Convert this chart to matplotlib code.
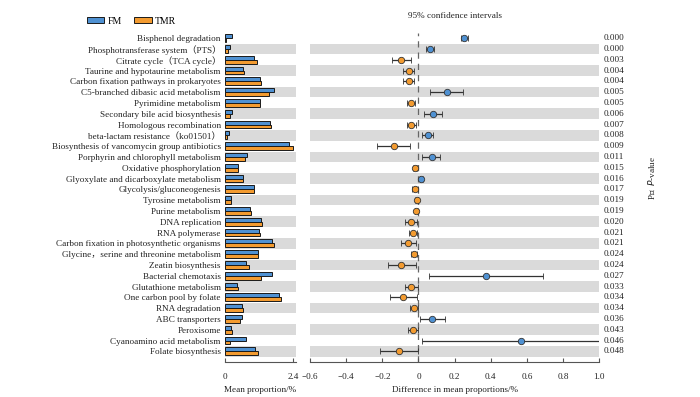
import matplotlib
matplotlib.use("Agg")
import matplotlib.pyplot as plt
from matplotlib.patches import Patch
import numpy as np

plt.rcParams['font.family'] = ['Liberation Serif', 'Noto Sans CJK SC', 'DejaVu Sans']

pathways = [
    "Bisphenol degradation",
    "Phosphotransferase system\uff08PTS\uff09",
    "Citrate cycle\uff08TCA cycle\uff09",
    "Taurine and hypotaurine metabolism",
    "Carbon fixation pathways in prokaryotes",
    "C5-branched dibasic acid metabolism",
    "Pyrimidine metabolism",
    "Secondary bile acid biosynthesis",
    "Homologous recombination",
    "beta-lactam resistance\uff08ko01501\uff09",
    "Biosynthesis of vancomycin group antibiotics",
    "Porphyrin and chlorophyll metabolism",
    "Oxidative phosphorylation",
    "Glyoxylate and dicarboxylate metabolism",
    "Glycolysis/gluconeogenesis",
    "Tyrosine metabolism",
    "Purine metabolism",
    "DNA replication",
    "RNA polymerase",
    "Carbon fixation in photosynthetic organisms",
    "Glycine\uff0cserine and threonine metabolism",
    "Zeatin biosynthesis",
    "Bacterial chemotaxis",
    "Glutathione metabolism",
    "One carbon pool by folate",
    "RNA degradation",
    "ABC transporters",
    "Peroxisome",
    "Cyanoamino acid metabolism",
    "Folate biosynthesis",
]
fm_mean = [0.25, 0.17, 1.03, 0.62, 1.22, 1.71, 1.22, 0.25, 1.58, 0.15,
           2.25, 0.79, 0.45, 0.65, 1.01, 0.21, 0.89, 1.27, 1.19, 1.65,
           1.15, 0.75, 1.65, 0.41, 1.89, 0.61, 0.59, 0.20, 0.75, 1.06]
tmr_mean = [0.05, 0.10, 1.12, 0.68, 1.27, 1.54, 1.24, 0.17, 1.62, 0.08,
            2.38, 0.72, 0.46, 0.63, 1.03, 0.21, 0.90, 1.31, 1.22, 1.71,
            1.17, 0.83, 1.28, 0.46, 1.96, 0.64, 0.52, 0.24, 0.19, 1.17]
diff = [0.252, 0.064, -0.098, -0.055, -0.055, 0.155, -0.041, 0.079, -0.039, 0.050,
        -0.136, 0.072, -0.020, 0.015, -0.020, -0.009, -0.013, -0.041, -0.031, -0.057,
        -0.026, -0.094, 0.374, -0.039, -0.083, -0.026, 0.077, -0.029, 0.565, -0.109]
ci_low = [0.237, 0.042, -0.149, -0.085, -0.085, 0.066, -0.063, 0.031, -0.063, 0.018,
          -0.227, 0.022, -0.031, 0.006, -0.035, -0.018, -0.022, -0.076, -0.055, -0.099,
          -0.044, -0.169, 0.059, -0.074, -0.158, -0.046, 0.006, -0.057, 0.020, -0.214]
ci_high = [0.273, 0.088, -0.044, -0.024, -0.026, 0.247, -0.017, 0.129, -0.015, 0.083,
           -0.046, 0.120, -0.009, 0.024, -0.005, 0.000, -0.004, -0.006, -0.007, -0.013,
           -0.007, -0.015, 0.689, -0.004, -0.009, -0.004, 0.147, -0.002, 1.10, -0.001]
pvals = ["0.000", "0.000", "0.003", "0.004", "0.004", "0.005", "0.005", "0.006", "0.007", "0.008",
         "0.009", "0.011", "0.015", "0.016", "0.017", "0.019", "0.019", "0.020", "0.021", "0.021",
         "0.024", "0.024", "0.027", "0.033", "0.034", "0.034", "0.036", "0.043", "0.046", "0.048"]
groups = ["FM", "TMR"]

BLUE = "#4F91D2"
ORANGE = "#F39B30"
STRIPE = "#DADADA"
TXT = "#222222"
SP = "#555555"
FS = 6.6

n = len(pathways)
y = np.arange(n)

fig = plt.figure(figsize=(7.0, 3.97), dpi=100)
bottom = 0.0889
top = 0.9174
axL = fig.add_axes([225/700, bottom, 71/700, top - bottom])
axM = fig.add_axes([310/700, bottom, 289.3/700, top - bottom])

ylim = (29.96, -0.5)
for ax in (axL, axM):
    for i in range(n):
        if i % 2 == 1:
            ax.axhspan(i - 0.49, i + 0.49, color=STRIPE, lw=0, zorder=0)
    ax.set_ylim(*ylim)
    for s in ("top", "right", "left"):
        ax.spines[s].set_visible(False)
    ax.spines["bottom"].set_color(SP)
    ax.spines["bottom"].set_linewidth(0.8)
    ax.tick_params(axis="x", direction="in", length=3, color=SP, labelsize=FS,
                   labelcolor=TXT, pad=8)

bh = 0.36
axL.barh(y - bh/2, fm_mean, height=bh, color=BLUE, edgecolor="#1a1a1a", lw=0.7, zorder=2)
axL.barh(y + bh/2, tmr_mean, height=bh, color=ORANGE, edgecolor="#1a1a1a", lw=0.7, zorder=2)
axL.set_xlim(0, 2.5)
axL.set_xticks([0, 2.4])
axL.set_xticklabels(["0", "2.4"])
axL.set_yticks(y)
axL.set_yticklabels(pathways, fontsize=FS, color=TXT)
axL.tick_params(axis="y", length=0, pad=3)
axL.set_xlabel("Mean proportion/%", fontsize=FS, color=TXT, labelpad=4)

axM.axvline(0, color="#666666", ls=(0, (5, 4)), lw=0.9, zorder=1)
for i in range(n):
    c = BLUE if diff[i] > 0 else ORANGE
    axM.errorbar(diff[i], i, xerr=[[diff[i] - ci_low[i]], [ci_high[i] - diff[i]]],
                 fmt="o", ms=4.6, mfc=c, mec="#333333", mew=0.6, ecolor="#333333",
                 elinewidth=0.9, capsize=2.2, capthick=0.9, zorder=3)
axM.set_xlim(-0.6, 1.0)
ticks = [-0.6, -0.4, -0.2, 0, 0.2, 0.4, 0.6, 0.8, 1.0]
axM.set_xticks(ticks)
axM.set_xticklabels(["\u22120.6", "\u22120.4", "\u22120.2", "0", "0.2", "0.4", "0.6", "0.8", "1.0"])
axM.set_yticks([])
axM.set_xlabel("Difference in mean proportions/%", fontsize=FS, color=TXT, labelpad=4)
axM.set_title("95% confidence intervals", fontsize=FS, color=TXT, pad=11)

for i in range(n):
    axM.text(1.016, i, pvals[i], transform=axM.get_yaxis_transform(), fontsize=FS,
             color=TXT, va="center", ha="left")

fig.text(652/700, 1 - 178/397, "P\u503c  $\\it{P}$-value", rotation=90, fontsize=FS,
         color=TXT, ha="center", va="center")

handles = [Patch(facecolor=BLUE, edgecolor="#1a1a1a", lw=0.7),
           Patch(facecolor=ORANGE, edgecolor="#1a1a1a", lw=0.7)]
fig.legend(handles, groups, ncol=2, loc="center left", bbox_to_anchor=(82/700, 1 - 21/397),
           frameon=False, fontsize=FS + 0.4, handlelength=1.8, handleheight=0.55,
           columnspacing=1.3, handletextpad=0.3, borderpad=0)

fig.savefig("out.png", dpi=100)
